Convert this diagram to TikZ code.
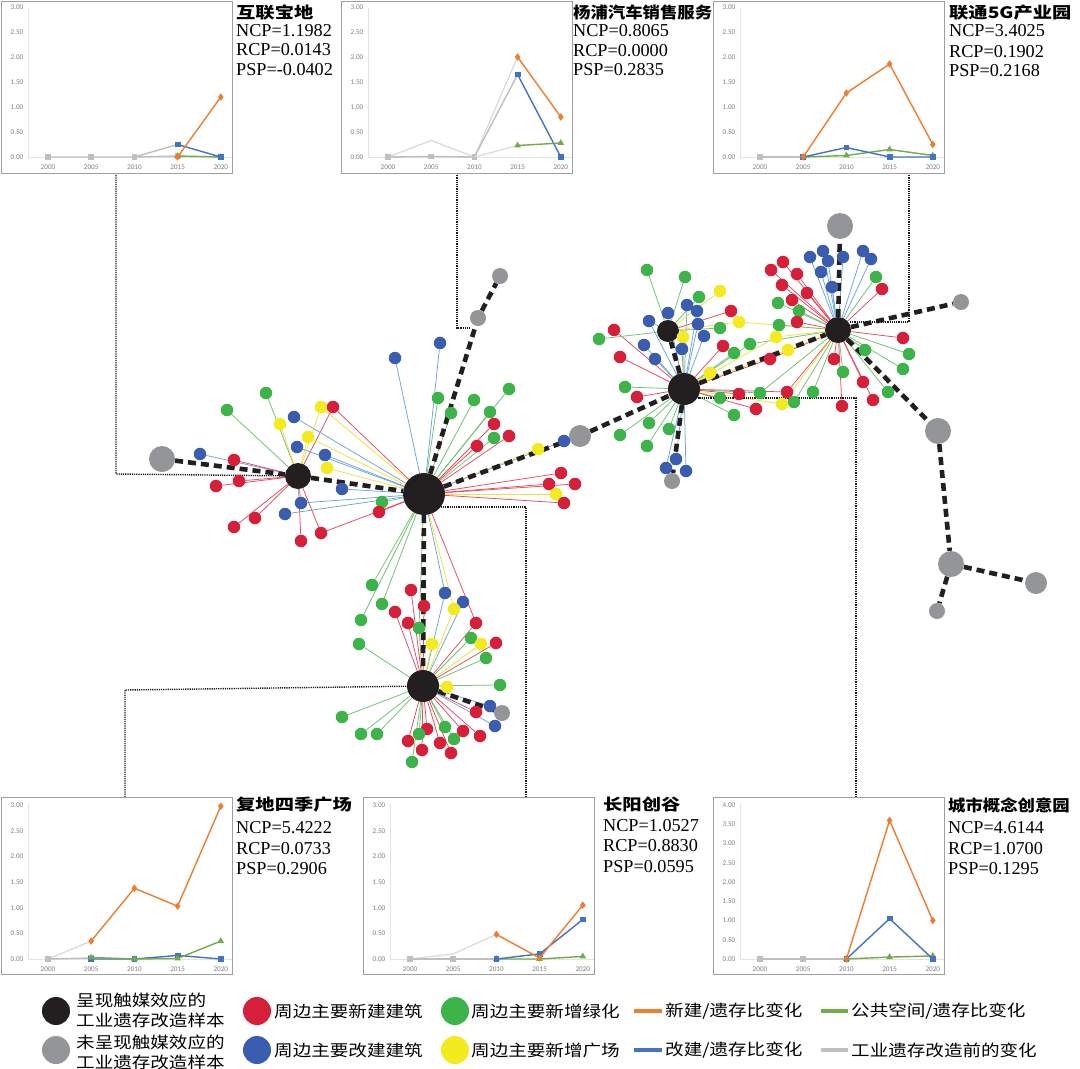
\documentclass[tikz,border=0pt]{standalone}
\usepackage{fontspec}
\setmainfont{Liberation Serif}
\newfontfamily\cjk{Noto Sans CJK SC}
\newfontfamily\cjkw{Noto Sans CJK SC}[FakeStretch=1.22]
\newfontfamily\cjkn{Noto Sans CJK SC}[FakeStretch=1.1]
\newfontfamily\cjkl{Noto Sans CJK SC}[FakeStretch=1.16]
\newfontfamily\tickf{Carlito}
\usetikzlibrary{plotmarks}
\definecolor{cR}{HTML}{D71F3A}
\definecolor{cG}{HTML}{3CB44A}
\definecolor{cB}{HTML}{3A5DB0}
\definecolor{cY}{HTML}{F3EA1F}
\definecolor{eR}{HTML}{E64A5F}
\definecolor{eG}{HTML}{6DC36F}
\definecolor{eB}{HTML}{6AA6DD}
\definecolor{eY}{HTML}{EFE23A}
\definecolor{hubk}{HTML}{231F20}
\definecolor{gryc}{HTML}{939598}
\definecolor{chO}{HTML}{ED7D31}
\definecolor{chB}{HTML}{4472C4}
\definecolor{chG}{HTML}{70AD47}
\definecolor{chY}{HTML}{BFBFBF}
\definecolor{chL}{HTML}{D9D9D9}
\pgfdeclarelayer{bgl}
\pgfdeclarelayer{midl}
\pgfsetlayers{bgl,midl,main}
\newcommand\tthree{0/0.00,0.5/0.50,1/1.00,1.5/1.50,2/2.00,2.5/2.50,3/3.00}
\newcommand\tfour{0/0.00,0.5/0.50,1/1.00,1.5/1.50,2/2.00,2.5/2.50,3/3.00,3.5/3.50,4/4.00}
\newcommand\mychart[6]{%
  \draw[frm] (#1,#2) rectangle ++(231,#3);
  \draw[axl] (#1+27,#2+#4) -- ++(204,0);
  \draw[axl] (#1+27,#2+#4) -- (#1+27,#2+7);
  \foreach \v/\t in #6 {\node[tkl] at (#1+16,{#2+#4-\v*#5}) {\t};}
  \foreach \yr [count=\k from 0] in {2000,2005,2010,2015,2020}
    {\node[yrl] at ({#1+47+43.2*\k},#2+#4+10.5) {\yr};}
}
\begin{document}
\begin{tikzpicture}[x=1pt,y=-1pt,
  frm/.style={draw=gray!75, line width=0.8pt},
  axl/.style={draw=gray!22, line width=0.6pt},
  tkl/.style={inner sep=0pt, text=gray, font=\tickf\fontsize{7.2}{8}\selectfont},
  yrl/.style={inner sep=0pt, text=gray, font=\tickf\fontsize{7.2}{8}\selectfont},
  ttl/.style={anchor=west, inner sep=0pt, font=\cjkw\bfseries\fontsize{15.8}{18}\selectfont},
  lbl/.style={anchor=west, inner sep=0pt, font=\fontsize{18.2}{20}\selectfont},
  datasc/.style n args={3}{shift={(#1,#2)}, x=43.2pt, y=#3pt},
  sO/.style={line width=1.4pt, draw=chO, mark=diamond*, mark size=2.6pt, mark options={fill=chO, draw=chO, solid}},
  sB/.style={line width=1.4pt, draw=chB, mark=square*, mark size=2.2pt, mark options={fill=chB, draw=chB, solid}},
  sG/.style={line width=1.4pt, draw=chG, mark=triangle*, mark size=2.5pt, mark options={fill=chG, draw=chG, solid}},
  sY/.style={line width=1.4pt, draw=chY, mark=square*, mark size=2.2pt, mark options={fill=chY, draw=chY, solid}},
  sL/.style={line width=1.2pt, draw=chL, mark=none},
  hub/.style={circle, fill=hubk, inner sep=0pt, minimum size=#1},
  gry/.style={circle, fill=gryc, inner sep=0pt, minimum size=#1},
  sn/.style={circle, inner sep=0pt, minimum size=12.5pt},
  spoke/.style={line width=0.75pt},
  dashlink/.style={line width=4.6pt, draw=hubk, dash pattern=on 8pt off 5pt},
  leader/.style={line width=1.4pt, draw=black!90, dash pattern=on 1.2pt off 1pt},
  legtxt/.style={anchor=west, inner sep=0pt, align=left, font=\cjkl\fontsize{16}{20.5}\selectfont},
  legline/.style={line width=4.5pt, draw=#1}
]
\useasboundingbox (0,0) rectangle (1080,1069);
\begin{pgfonlayer}{bgl}
\fill[white] (0,0) rectangle (1080,1069);
\end{pgfonlayer}

% ---------------- charts ----------------
\mychart{1}{1}{172}{156}{50}{\tthree}
\mychart{341}{1}{172}{156}{50}{\tthree}
\mychart{713}{1}{172}{156}{50}{\tthree}
\mychart{1}{797}{177}{162}{51.3}{\tthree}
\mychart{363}{797}{177}{162}{51.3}{\tthree}
\mychart{713}{797}{177}{162}{38.5}{\tfour}

\begin{scope}[datasc={48}{157}{50}]
  \draw[sY] plot coordinates {(0,0) (1,0) (2,0) (3,0.25)};
  \draw[sY] plot coordinates {(2,0) (3,0.02)};
  \draw[sG] plot coordinates {(3,0.02) (4,0)};
  \draw[sB] plot coordinates {(3,0.25) (4,0)};
  \draw[sO] plot coordinates {(3,0) (4,1.2)};
\end{scope}
\begin{scope}[datasc={388}{157}{50}]
  \draw[sL] plot coordinates {(0,0) (1,0.33) (2,0) (3,2.0)};
  \draw[sY] plot coordinates {(0,0) (1,0.01) (2,0) (3,1.65)};
  \draw[sL] plot coordinates {(2,0) (3,0.23)};
  \draw[sO] plot coordinates {(3,2.0) (4,0.8)};
  \draw[sB] plot coordinates {(3,1.65) (4,0)};
  \draw[sG] plot coordinates {(3,0.23) (4,0.28)};
\end{scope}
\begin{scope}[datasc={760}{157}{50}]
  \draw[sY] plot coordinates {(0,0) (1,0)};
  \draw[sG] plot coordinates {(1,0) (2,0.03) (3,0.15) (4,0.03)};
  \draw[sB] plot coordinates {(1,0) (2,0.19) (3,0) (4,0)};
  \draw[sO] plot coordinates {(1,0) (2,1.28) (3,1.86) (4,0.25)};
\end{scope}
\begin{scope}[datasc={48}{959}{51.3}]
  \draw[sL] plot coordinates {(0,0) (1,0.35)};
  \draw[sY] plot coordinates {(0,0) (1,0.02)};
  \draw[sB] plot coordinates {(1,0) (2,0) (3,0.07) (4,0)};
  \draw[sG] plot coordinates {(1,0.03) (2,0) (3,0.01) (4,0.35)};
  \draw[sO] plot coordinates {(1,0.35) (2,1.38) (3,1.03) (4,2.98)};
\end{scope}
\begin{scope}[datasc={410}{959}{51.3}]
  \draw[sL] plot coordinates {(0,0) (1,0.1) (2,0.48)};
  \draw[sY] plot coordinates {(0,0) (1,0) (2,0)};
  \draw[sG] plot coordinates {(2,0) (3,0) (4,0.05)};
  \draw[sB] plot coordinates {(2,0) (3,0.1) (4,0.77)};
  \draw[sO] plot coordinates {(2,0.48) (3,0.02) (4,1.05)};
\end{scope}
\begin{scope}[datasc={760}{959}{38.5}]
  \draw[sY] plot coordinates {(0,0) (1,0) (2,0)};
  \draw[sG] plot coordinates {(2,0) (3,0.05) (4,0.08)};
  \draw[sB] plot coordinates {(2,0) (3,1.05) (4,0)};
  \draw[sO] plot coordinates {(2,0) (3,3.6) (4,1.0)};
\end{scope}

% chart labels
\node[ttl] (t1) at (236,12) {互联宝地};
\node[lbl] (t1a) at (236,30.5) {NCP=1.1982};
\node[lbl] (t1b) at (236,50) {RCP=0.0143};
\node[lbl] (t1c) at (236,69.5) {PSP=-0.0402};
\node[ttl, font=\cjkn\bfseries\fontsize{15.8}{18}\selectfont] (t2) at (573,12) {杨浦汽车销售服务};
\node[lbl] (t2a) at (573,30.5) {NCP=0.8065};
\node[lbl] (t2b) at (573,50.5) {RCP=0.0000};
\node[lbl] (t2c) at (573,70) {PSP=0.2835};
\node[ttl] (t3) at (949,12.5) {联通5G产业园};
\node[lbl] (t3a) at (949,31) {NCP=3.4025};
\node[lbl] (t3b) at (949,51.5) {RCP=0.1902};
\node[lbl] (t3c) at (949,71) {PSP=0.2168};
\node[ttl] (t4) at (236,805) {复地四季广场};
\node[lbl] (t4a) at (236,828) {NCP=5.4222};
\node[lbl] (t4b) at (236,848.5) {RCP=0.0733};
\node[lbl] (t4c) at (236,869) {PSP=0.2906};
\node[ttl] (t5) at (603,804) {长阳创谷};
\node[lbl] (t5a) at (603,825.5) {NCP=1.0527};
\node[lbl] (t5b) at (603,846) {RCP=0.8830};
\node[lbl] (t5c) at (603,866.5) {PSP=0.0595};
\node[ttl, font=\cjkn\bfseries\fontsize{15.8}{18}\selectfont] (t6) at (948,805) {城市概念创意园};
\node[lbl] (t6a) at (948,828) {NCP=4.6144};
\node[lbl] (t6b) at (948,848.5) {RCP=1.0700};
\node[lbl] (t6c) at (948,869) {PSP=0.1295};

% ---------------- network ----------------
\node[hub=42pt] (A) at (424,494) {};
\node[hub=26pt] (B) at (298,476) {};
\node[hub=32pt] (C) at (423,686) {};
\node[hub=32pt] (D) at (684,389) {};
\node[hub=22pt] (E) at (668,331) {};
\node[hub=26pt] (F) at (838,330) {};
\node[gry=26pt] (g1) at (162,459) {};
\node[gry=22pt] (g2) at (580,436) {};
\node[gry=16pt] (g3) at (478,318) {};
\node[gry=16pt] (g4) at (500,276) {};
\node[gry=16pt] (g5) at (672,481) {};
\node[gry=16pt] (g6) at (502,713) {};
\node[gry=26pt] (g7) at (840,226) {};
\node[gry=16pt] (g8) at (961,302) {};
\node[gry=26pt] (g9) at (938,431) {};
\node[gry=26pt] (g10) at (951,564) {};
\node[gry=22pt] (g11) at (1036,583) {};
\node[gry=16pt] (g12) at (937,611) {};

\foreach \x/\y/\c/\h [count=\i] in {
 200/454/B/B, 234/460/R/B, 216/486/R/B, 239/481/R/B, 234/527/R/B, 255/518/R/B,
 227/410/G/B, 266/393/G/B, 280/424/Y/B, 321/407/Y/{B,A}, 333/407/R/{B,A},
 294/417/B/A, 308/437/Y/{A,B}, 297/447/B/A, 325/455/B/A, 327/468/Y/A, 342/489/B/A,
 301/503/B/{A,B}, 285/514/B/A, 301/541/R/B, 321/533/R/{B,A}, 382/502/G/A, 379/512/R/A,
 395/358/B/A, 440/343/B/A, 438/398/G/A, 451/413/G/A, 474/400/G/A, 509/389/G/A,
 490/412/G/A, 494/424/R/A, 494/438/G/A, 509/436/R/A, 477/446/R/A, 538/449/Y/A,
 564/441/B/A, 561/473/R/A, 549/484/R/A, 575/484/R/A, 556/494/Y/A, 564/503/R/A,
 372/585/G/A, 382/604/G/A, 361/620/G/A, 359/644/G/C,
 411/590/R/C, 424/606/R/C, 395/612/R/C, 408/623/R/C, 419/628/G/{C,A},
 445/593/B/{C,A}, 463/602/B/C, 454/609/Y/{C,A}, 476/623/R/{C,A}, 471/638/G/C,
 432/644/Y/C, 481/644/Y/C, 496/643/R/C, 486/658/G/C, 447/687/Y/C, 500/685/G/C,
 490/706/B/C, 476/712/R/C, 495/726/B/C, 480/736/R/C, 463/731/R/C, 445/727/G/C,
 454/739/G/C, 440/743/R/C, 451/753/R/C, 427/729/R/C, 419/734/G/C, 408/741/R/C,
 422/750/R/C, 412/762/G/C, 342/717/G/C, 361/734/G/C, 377/734/G/C,
 647/270/G/E, 685/277/G/E, 649/321/B/{E,D}, 614/330/R/D, 599/339/G/E,
 668/313/B/D, 687/305/B/D, 697/311/B/D, 699/297/G/E, 698/324/B/D, 704/336/B/D,
 683/337/Y/D, 644/345/B/D, 682/349/B/D, 655/359/B/D, 620/357/R/D,
 720/291/Y/E, 731/311/R/E, 739/322/Y/{E,F}, 720/328/G/E, 723/346/R/D, 734/353/G/D,
 750/344/G/{D,F}, 710/373/Y/D, 770/359/R/{D,F}, 625/387/G/D, 637/397/R/D,
 720/398/G/D, 739/394/R/D, 760/393/G/{D,F}, 756/409/R/D, 734/415/G/D,
 649/423/G/D, 669/429/G/D, 620/435/G/D, 647/446/G/D, 676/459/B/D, 666/468/B/D,
 686/471/B/D, 776/337/Y/{D,F}, 788/350/Y/{D,F},
 810/257/B/F, 823/251/B/F, 828/261/B/F, 843/257/B/F, 821/272/B/F, 832/287/B/F,
 863/251/B/F, 871/259/B/F, 876/277/G/F, 882/289/R/F, 783/262/R/F, 771/270/R/F,
 797/274/R/F, 782/285/R/F, 807/293/R/F, 792/300/R/F, 778/303/G/F, 799/311/G/F,
 797/322/R/F, 779/325/G/F, 834/359/R/F, 843/372/G/F, 865/350/G/F, 903/338/R/F,
 909/354/G/F, 903/369/G/F, 863/382/R/F, 873/400/R/F, 888/392/G/F, 842/406/R/F,
 813/392/G/F, 787/392/R/{F,D}, 794/402/G/F, 782/404/Y/{F,D}}{%
  \node[sn, fill=c\c] (s\i) at (\x,\y) {};
  \begin{pgfonlayer}{bgl}
    \foreach \hh in \h {\draw[spoke, draw=e\c] (s\i) -- (\hh);}
  \end{pgfonlayer}
}

\begin{pgfonlayer}{midl}
  \draw[dashlink] (g1) -- (B);
  \draw[dashlink] (B) -- (A);
  \draw[dashlink] (A) -- (C);
  \draw[dashlink] (A) -- (g2);
  \draw[dashlink] (g2) -- (D);
  \draw[dashlink] (A) -- (g3);
  \draw[dashlink] (g3) -- (g4);
  \draw[dashlink] (C) -- (g6);
  \draw[dashlink] (D) -- (E);
  \draw[dashlink] (D) -- (g5);
  \draw[dashlink] (D) -- (F);
  \draw[dashlink] (F) -- (g7);
  \draw[dashlink] (F) -- (g8);
  \draw[dashlink] (F) -- (g9);
  \draw[dashlink] (g9) -- (g10);
  \draw[dashlink] (g10) -- (g11);
  \draw[dashlink] (g10) -- (g12);
\end{pgfonlayer}

% leaders
\coordinate (l1a) at (116,173); \coordinate (l1b) at (116,474);
\coordinate (l2a) at (457,173); \coordinate (l2b) at (457,328); \coordinate (l2c) at (471,328);
\coordinate (l3a) at (909,173); \coordinate (l3b) at (909,322); \coordinate (l3c) at (849,322);
\coordinate (l4a) at (125,797); \coordinate (l4b) at (125,690);
\coordinate (l5a) at (526,797); \coordinate (l5b) at (526,507); \coordinate (l5c) at (440,507);
\coordinate (l6a) at (856,797); \coordinate (l6b) at (856,398); \coordinate (l6c) at (698,398);
\begin{pgfonlayer}{bgl}
  \draw[leader] (l1a) -- (l1b) -- (B);
  \draw[leader] (l2a) -- (l2b) -- (l2c);
  \draw[leader] (l3a) -- (l3b) -- (l3c);
  \draw[leader] (l4a) -- (l4b) -- (C);
  \draw[leader] (l5a) -- (l5b) -- (l5c);
  \draw[leader] (l6a) -- (l6b) -- (l6c);
\end{pgfonlayer}

% ---------------- legend ----------------
\node[hub=28pt] (lg1) at (56,1011) {};
\node[gry=28pt] (lg2) at (56,1050) {};
\node[legtxt] (lt1) at (76,1010.5) {呈现触媒效应的\\工业遗存改造样本};
\node[legtxt] (lt2) at (76,1052.5) {未呈现触媒效应的\\工业遗存改造样本};
\node[sn, minimum size=28pt, fill=cR] (lg3) at (257,1011) {};
\node[sn, minimum size=28pt, fill=cB] (lg4) at (257,1050) {};
\node[legtxt] (lt3) at (274,1011) {周边主要新建建筑};
\node[legtxt] (lt4) at (274,1050) {周边主要改建建筑};
\node[sn, minimum size=28pt, fill=cG] (lg5) at (455,1011) {};
\node[sn, minimum size=28pt, fill=cY] (lg6) at (455,1050) {};
\node[legtxt] (lt5) at (471,1011) {周边主要新增绿化};
\node[legtxt] (lt6) at (471,1050) {周边主要新增广场};
\coordinate (ll1a) at (634,1011); \coordinate (ll1b) at (662,1011);
\coordinate (ll2a) at (634,1050); \coordinate (ll2b) at (662,1050);
\coordinate (ll3a) at (821,1011); \coordinate (ll3b) at (848,1011);
\coordinate (ll4a) at (821,1050); \coordinate (ll4b) at (848,1050);
\draw[legline=chO] (ll1a) -- (ll1b);
\draw[legline=chB] (ll2a) -- (ll2b);
\draw[legline=chG] (ll3a) -- (ll3b);
\draw[legline=chY] (ll4a) -- (ll4b);
\node[legtxt] (lt7) at (665,1011) {新建/遗存比变化};
\node[legtxt] (lt8) at (665,1050) {改建/遗存比变化};
\node[legtxt] (lt9) at (851,1011) {公共空间/遗存比变化};
\node[legtxt] (lt10) at (851,1050) {工业遗存改造前的变化};
\end{tikzpicture}
\end{document}
